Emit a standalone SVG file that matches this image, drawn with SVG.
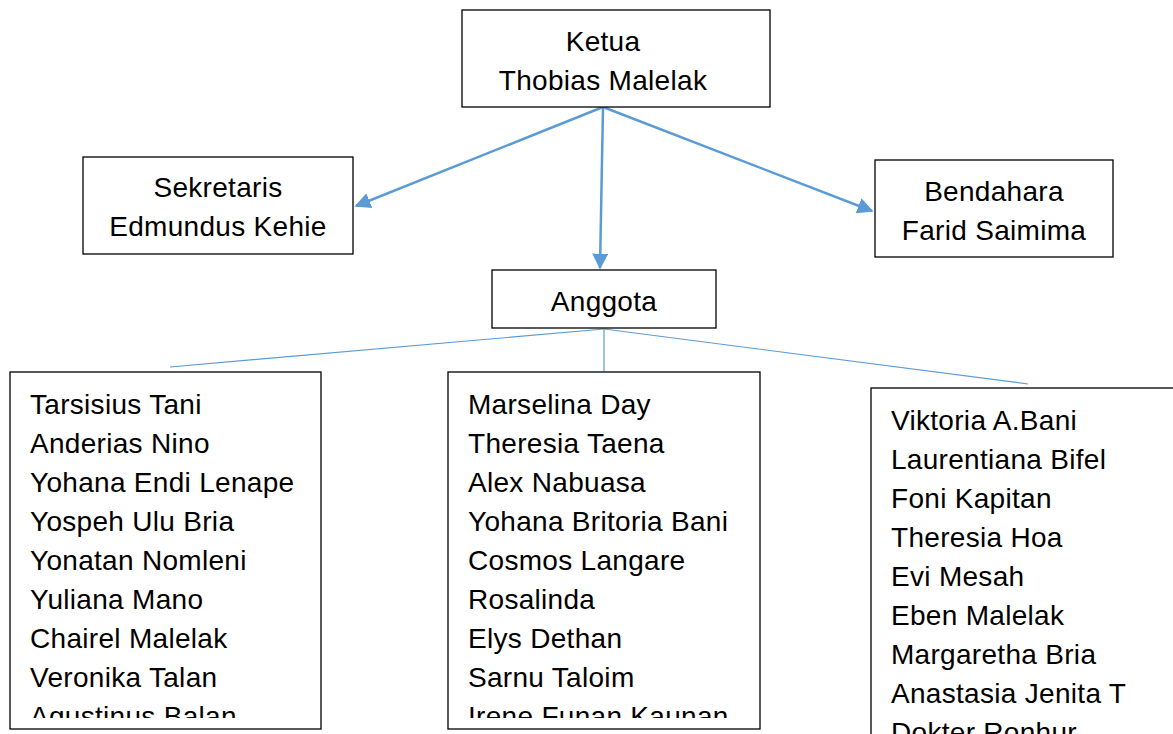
<svg xmlns="http://www.w3.org/2000/svg" width="1173" height="734" viewBox="0 0 1173 734">
<style>
.box{fill:#fff;stroke:#000;stroke-width:1.3}
text{font-family:"Liberation Sans",Arial,sans-serif;font-size:28px;letter-spacing:0.3px;fill:#000}
.c{text-anchor:middle}
.arr{stroke:#5b9bd5;stroke-width:2.5;fill:none}
.thin{stroke:#5b9bd5;stroke-width:1.2;fill:none}
</style>
<defs>
<marker id="ah2" viewBox="0 0 10 10" refX="9" refY="5" markerWidth="16" markerHeight="16" markerUnits="userSpaceOnUse" orient="auto"><path d="M0,0 L10,5 L0,10 Z" fill="#5b9bd5"/></marker>
<clipPath id="cl1"><rect x="10" y="372" width="311" height="346"/></clipPath>
<clipPath id="cl2"><rect x="448" y="372" width="312" height="346"/></clipPath>
<clipPath id="cl3"><rect x="871" y="388" width="302" height="346"/></clipPath>
</defs>
<g id="connectors">
<line class="arr" x1="603" y1="107" x2="356" y2="206" marker-end="url(#ah2)"/>
<line class="arr" x1="603" y1="107" x2="600" y2="268" marker-end="url(#ah2)"/>
<line class="arr" x1="603" y1="107" x2="872" y2="211" marker-end="url(#ah2)"/>
<line class="thin" x1="604" y1="329" x2="170" y2="367"/>
<line class="thin" x1="604" y1="329" x2="604" y2="371"/>
<line class="thin" x1="604" y1="329" x2="1028" y2="384"/>
</g>
<g id="ketua">
<rect class="box" x="462" y="10" width="308" height="97"/>
<text class="c" x="603" y="51">Ketua</text>
<text class="c" x="603" y="90">Thobias Malelak</text>
</g>
<g id="sekretaris">
<rect class="box" x="83" y="157" width="270" height="97"/>
<text class="c" x="218" y="197">Sekretaris</text>
<text class="c" x="218" y="236">Edmundus Kehie</text>
</g>
<g id="bendahara">
<rect class="box" x="875" y="160" width="238" height="97"/>
<text class="c" x="994" y="201">Bendahara</text>
<text class="c" x="994" y="240">Farid Saimima</text>
</g>
<g id="anggota">
<rect class="box" x="492" y="270" width="224" height="58"/>
<text class="c" x="604" y="311">Anggota</text>
</g>
<g id="anggota-kiri">
<rect class="box" x="10" y="372" width="311" height="357"/>
<g clip-path="url(#cl1)">
<text x="30" y="414">Tarsisius Tani</text>
<text x="30" y="453">Anderias Nino</text>
<text x="30" y="492">Yohana Endi Lenape</text>
<text x="30" y="531">Yospeh Ulu Bria</text>
<text x="30" y="570">Yonatan Nomleni</text>
<text x="30" y="609">Yuliana Mano</text>
<text x="30" y="648">Chairel Malelak</text>
<text x="30" y="687">Veronika Talan</text>
<text x="30" y="726">Agustinus Balan</text>
</g>
</g>
<g id="anggota-tengah">
<rect class="box" x="448" y="372" width="312" height="357"/>
<g clip-path="url(#cl2)">
<text x="468" y="414">Marselina Day</text>
<text x="468" y="453">Theresia Taena</text>
<text x="468" y="492">Alex Nabuasa</text>
<text x="468" y="531">Yohana Britoria Bani</text>
<text x="468" y="570">Cosmos Langare</text>
<text x="468" y="609">Rosalinda</text>
<text x="468" y="648">Elys Dethan</text>
<text x="468" y="687">Sarnu Taloim</text>
<text x="468" y="726">Irene Funan Kaunan</text>
</g>
</g>
<g id="anggota-kanan">
<rect class="box" x="871" y="388" width="310" height="360"/>
<g clip-path="url(#cl3)">
<text x="891" y="430">Viktoria A.Bani</text>
<text x="891" y="469">Laurentiana Bifel</text>
<text x="891" y="508">Foni Kapitan</text>
<text x="891" y="547">Theresia Hoa</text>
<text x="891" y="586">Evi Mesah</text>
<text x="891" y="625">Eben Malelak</text>
<text x="891" y="664">Margaretha Bria</text>
<text x="891" y="703">Anastasia Jenita T</text>
<text x="891" y="742">Dokter Ronhur</text>
</g>
</g>
</svg>
